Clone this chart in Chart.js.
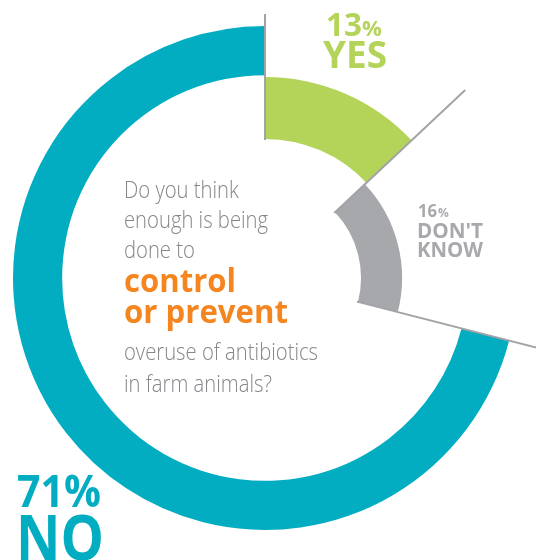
<!DOCTYPE html>
<html>
<head>
<meta charset="utf-8">
<script src="https://cdn.jsdelivr.net/npm/chart.js@4.4.0/dist/chart.umd.min.js"></script>
<style>
  html, body { margin: 0; background: #fff; }
  #wrap { width: 536px; height: 560px; position: relative; overflow: hidden; }
</style>
</head>
<body>
<div id="wrap"><canvas id="antibioticsChart"></canvas></div>
<script>
const answers = ['YES', "DON'T KNOW", 'NO']
const shares = [13, 16, 71]
const sliceColors = ['#b3d458', '#a7a8ab', '#02adc2']

// band of each slice, as share of the doughnut's outer radius
const bands = [[0.552, 0.798], [0.381, 0.544], [0.805, 1]]
// grey divider at the start of each slice, from / to (share of outer radius)
const dividers = [[0.548, 1.048], [0.377, 1.09], [0.377, 1.35]]

const question = [
  { text: 'Do you think', y: 198, strong: false },
  { text: 'enough is being', y: 228, strong: false },
  { text: 'done to', y: 258, strong: false },
  { text: 'control', y: 292, strong: true },
  { text: 'or prevent', y: 323, strong: true },
  { text: 'overuse of antibiotics', y: 360, strong: false },
  { text: 'in farm animals?', y: 392, strong: false }
]

const bandsPlugin = {
  id: 'bands',
  afterDatasetsUpdate(chart) {
    const meta = chart.getDatasetMeta(0)
    const R = meta.controller.outerRadius
    meta.data.forEach((arc, i) => {
      arc.innerRadius = R * bands[i][0]
      arc.outerRadius = R * bands[i][1]
    })
  },
  afterDatasetsDraw(chart) {
    const ctx = chart.ctx
    const meta = chart.getDatasetMeta(0)
    const R = meta.controller.outerRadius
    ctx.save()
    ctx.strokeStyle = '#a2a3a6'
    ctx.lineWidth = 2
    meta.data.forEach((arc, i) => {
      const a = arc.startAngle
      ctx.beginPath()
      ctx.moveTo(arc.x + Math.cos(a) * R * dividers[i][0], arc.y + Math.sin(a) * R * dividers[i][0])
      ctx.lineTo(arc.x + Math.cos(a) * R * dividers[i][1], arc.y + Math.sin(a) * R * dividers[i][1])
      ctx.stroke()
    })
    ctx.restore()
  }
}

function put(ctx, text, x, y, font, color, maxW) {
  ctx.font = font
  ctx.fillStyle = color
  if (maxW) ctx.fillText(text, x, y, maxW)
  else ctx.fillText(text, x, y)
  return x + Math.min(ctx.measureText(text).width, maxW || 1e9)
}

const textPlugin = {
  id: 'texts',
  afterDraw(chart) {
    const ctx = chart.ctx
    ctx.save()
    ctx.textBaseline = 'alphabetic'
    ctx.textAlign = 'left'

    question.forEach(l => {
      if (l.strong) {
        put(ctx, l.text, 124, l.y, 'bold 33px "Open Sans"', '#f5861f', l.text == 'control' ? 112 : 164)
      } else {
        ctx.font = '300 23px "Open Sans"'
        const w = ctx.measureText(l.text).width * 0.88
        put(ctx, l.text, 124, l.y, '300 23px "Open Sans"', '#85868a', w)
      }
    })

    // YES
    let x = put(ctx, shares[0], 326, 36, 'bold 32px "Open Sans"', sliceColors[0], 36)
    put(ctx, '%', x, 36, 'bold 22px "Open Sans"', sliceColors[0], 20)
    put(ctx, answers[0], 323, 68, 'bold 38px "Open Sans"', sliceColors[0], 64)

    // DON'T KNOW
    x = put(ctx, shares[1], 418, 217, 'bold 17px "Open Sans"', '#a8a9ac', 19)
    put(ctx, '%', x + 1, 217, 'bold 12px "Open Sans"', '#a8a9ac', 12)
    const dk = answers[1].split(' ')
    put(ctx, dk[0], 417, 238, 'bold 22px "Open Sans"', '#a8a9ac', 66)
    put(ctx, dk[1], 417, 257, 'bold 22px "Open Sans"', '#a8a9ac', 66)

    // NO
    put(ctx, shares[2] + '%', 17, 507, 'bold 44px "Open Sans"', sliceColors[2], 84)
    put(ctx, answers[2], 16, 560, 'bold 62px "Open Sans"', sliceColors[2], 88)
    ctx.restore()
  }
}

new Chart(document.getElementById('antibioticsChart'), {
  type: 'doughnut',
  data: {
    labels: answers,
    datasets: [{
      data: shares,
      backgroundColor: sliceColors,
      borderWidth: 0,
      hoverOffset: 0
    }]
  },
  options: {
    responsive: true,
    maintainAspectRatio: false,
    animation: false,
    events: [],
    layout: { padding: { left: 13, right: 19, top: 26, bottom: 30 } },
    plugins: { legend: { display: false }, tooltip: { enabled: false } }
  },
  plugins: [bandsPlugin, textPlugin]
})
</script>
</body>
</html>
